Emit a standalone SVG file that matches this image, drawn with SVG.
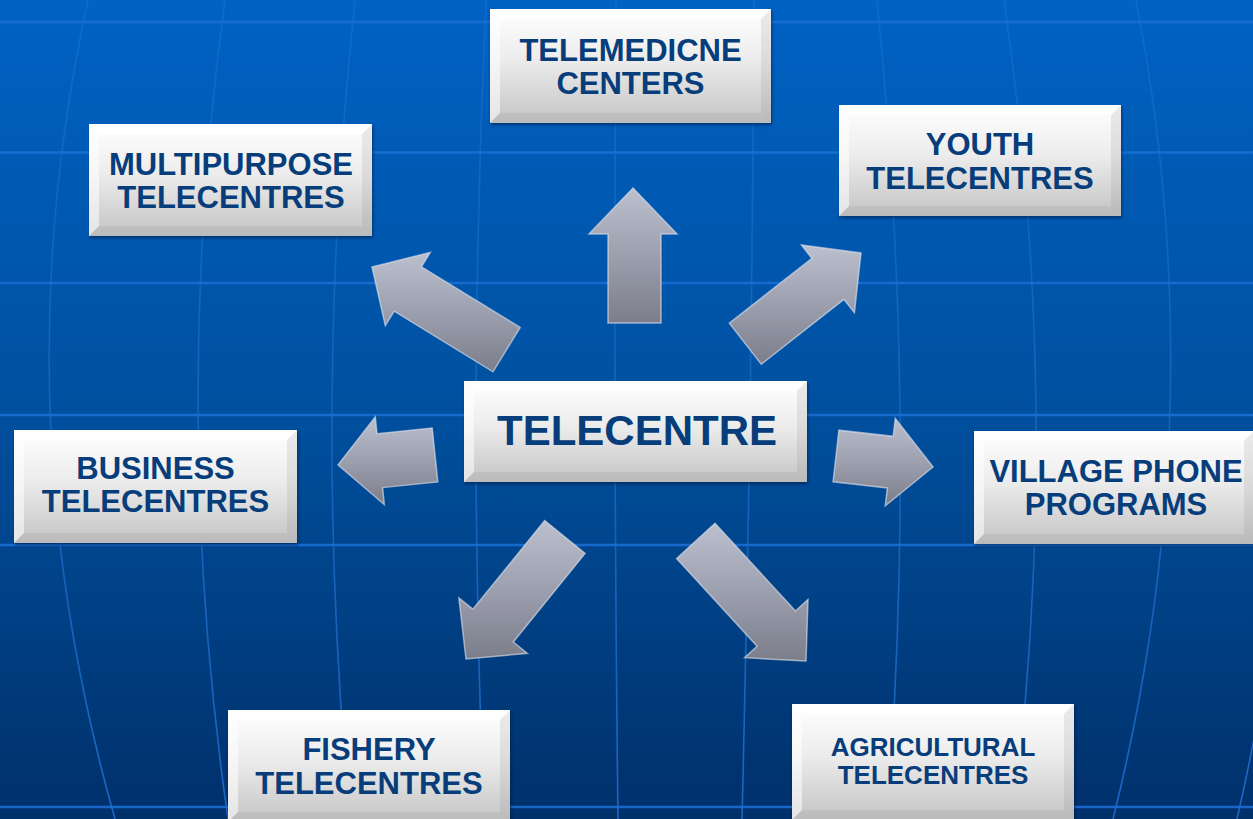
<svg xmlns="http://www.w3.org/2000/svg" width="1253" height="819" viewBox="0 0 1253 819">
  <defs>
    <linearGradient id="bg" x1="0" y1="0" x2="0" y2="1">
      <stop offset="0" stop-color="#0062c4"/>
      <stop offset="0.5" stop-color="#00509f"/>
      <stop offset="1" stop-color="#00306a"/>
    </linearGradient>
    <linearGradient id="meridian" gradientUnits="userSpaceOnUse" x1="0" y1="0" x2="0" y2="819">
      <stop offset="0" stop-color="#2c7ad6" stop-opacity="0.35"/>
      <stop offset="0.5" stop-color="#2474d2" stop-opacity="0.55"/>
      <stop offset="1" stop-color="#1f6cd0" stop-opacity="0.9"/>
    </linearGradient>
    <linearGradient id="face" x1="0" y1="0" x2="0" y2="1">
      <stop offset="0" stop-color="#ffffff"/>
      <stop offset="0.45" stop-color="#ececec"/>
      <stop offset="1" stop-color="#c4c4c4"/>
    </linearGradient>
    <linearGradient id="steel" x1="0" y1="0" x2="0" y2="1">
      <stop offset="0" stop-color="#bbbfce"/>
      <stop offset="0.5" stop-color="#9c9fae"/>
      <stop offset="1" stop-color="#7b7d8a"/>
    </linearGradient>
    <filter id="soft" x="-5%" y="-5%" width="110%" height="110%">
      <feGaussianBlur stdDeviation="1.5"/>
    </filter>
  </defs>
  <style>
    .grid-h { stroke: #1a6ed4; stroke-width: 2.5; fill: none; opacity: 0.9; }
    .grid-v { stroke: url(#meridian); stroke-width: 1.6; fill: none; }
    .shadow { fill: #001838; opacity: 0.55; filter: url(#soft); }
    .face { fill: url(#face); }
    .bv-top { fill: #ffffff; opacity: 0.85; }
    .bv-left { fill: #ffffff; opacity: 0.55; }
    .bv-right { fill: #7a7a7a; opacity: 0.14; }
    .bv-bottom { fill: #7a7a7a; opacity: 0.12; }
    .label { font-family: "Liberation Sans", Arial, sans-serif; font-weight: bold; fill: #063d7a; text-anchor: middle; font-size: 31px; }
    .label-sm { font-size: 26px; }
    .label-lg { font-size: 42px; }
    .arrow { fill: url(#steel); stroke: #e4e6ee; stroke-width: 1.5; stroke-opacity: 0.6; stroke-linejoin: miter; }
  </style>

  <!-- backdrop: blue globe grid -->
  <rect width="1253" height="819" fill="url(#bg)"/>
  <g id="grid">
    <path class="grid-v" d="M88,0 Q-1.5,410 115,819"/>
    <path class="grid-v" d="M225,0 Q169.5,410 228,819"/>
    <path class="grid-v" d="M355,0 Q311.5,410 350,819"/>
    <path class="grid-v" d="M486,0 Q467,410 484,819"/>
    <path class="grid-v" d="M616,0 Q613,410 618,819"/>
    <path class="grid-v" d="M754,0 Q752,410 742,819"/>
    <path class="grid-v" d="M877,0 Q918,410 887,819"/>
    <path class="grid-v" d="M1004,0 Q1063.5,410 1013,819"/>
    <path class="grid-v" d="M1136,0 Q1215.5,410 1113,819"/>
    <path class="grid-v" d="M1260,0 Q1331.5,410 1237,819"/>
    <line class="grid-h" x1="0" y1="22" x2="1253" y2="22" opacity="0.6"/>
    <line class="grid-h" x1="0" y1="152.5" x2="1253" y2="152.5"/>
    <line class="grid-h" x1="0" y1="283" x2="1253" y2="283"/>
    <line class="grid-h" x1="0" y1="415" x2="1253" y2="415"/>
    <line class="grid-h" x1="0" y1="545" x2="1253" y2="545"/>
    <line class="grid-h" x1="0" y1="807" x2="1253" y2="807" opacity="0.5"/>
  </g>

  <!-- block arrows radiating from the hub -->
  <g id="connectors">
    <polygon class="arrow" points="633,188 677,234 661,234 661,323 608,323 608,234 589,234"/>
    <polygon class="arrow" points="372,267 430.3,252.4 421.4,266.8 520.2,327.4 493,371.8 394.2,311.2 385.3,325.6"/>
    <polygon class="arrow" points="861,253 854.4,312.7 843.9,299.4 761.3,364.2 729.3,323.2 811.9,258.4 801.4,245.1"/>
    <polygon class="arrow" points="338,465 375.3,416.9 377,433.8 432.2,428.1 437.8,481.9 382.6,487.6 384.3,504.5"/>
    <polygon class="arrow" points="933,467 885.3,505.8 887.4,487.9 833.1,481.8 838.9,430.2 893.2,436.3 895.3,418.4"/>
    <polygon class="arrow" points="466,659 458.9,597.9 472.9,609.2 544.7,520.6 585.1,553.4 513.3,642 527.3,653.3"/>
    <polygon class="arrow" points="806,661 744.6,657.7 757.1,646.2 676.6,558.5 715,523.3 795.5,611 808,599.5"/>
  </g>

  <!-- bevelled label tiles -->
  <g id="node-telemedicine" transform="translate(490,9)">
    <rect class="shadow" x="1" y="2" width="281" height="114"/>
    <rect class="face" width="281" height="114"/>
    <polygon class="bv-top" points="0,0 281,0 271,10 10,10"/>
    <polygon class="bv-left" points="0,0 10,10 10,104 0,114"/>
    <polygon class="bv-right" points="281,0 281,114 271,104 271,10"/>
    <polygon class="bv-bottom" points="0,114 281,114 271,104 10,104"/>
    <text class="label" x="140.5" y="52">TELEMEDICNE</text>
    <text class="label" x="140.5" y="85">CENTERS</text>
  </g>

  <g id="node-multipurpose" transform="translate(89,124)">
    <rect class="shadow" x="1" y="2" width="283" height="112"/>
    <rect class="face" width="283" height="112"/>
    <polygon class="bv-top" points="0,0 283,0 273,10 10,10"/>
    <polygon class="bv-left" points="0,0 10,10 10,102 0,112"/>
    <polygon class="bv-right" points="283,0 283,112 273,102 273,10"/>
    <polygon class="bv-bottom" points="0,112 283,112 273,102 10,102"/>
    <text class="label" x="142" y="51">MULTIPURPOSE</text>
    <text class="label" x="142" y="84">TELECENTRES</text>
  </g>

  <g id="node-youth" transform="translate(839,105)">
    <rect class="shadow" x="1" y="2" width="282" height="111"/>
    <rect class="face" width="282" height="111"/>
    <polygon class="bv-top" points="0,0 282,0 272,10 10,10"/>
    <polygon class="bv-left" points="0,0 10,10 10,101 0,111"/>
    <polygon class="bv-right" points="282,0 282,111 272,101 272,10"/>
    <polygon class="bv-bottom" points="0,111 282,111 272,101 10,101"/>
    <text class="label" x="141" y="50">YOUTH</text>
    <text class="label" x="141" y="84">TELECENTRES</text>
  </g>

  <g id="node-telecentre" transform="translate(464,381)">
    <rect class="shadow" x="1" y="2" width="343" height="101"/>
    <rect class="face" width="343" height="101"/>
    <polygon class="bv-top" points="0,0 343,0 333,10 10,10"/>
    <polygon class="bv-left" points="0,0 10,10 10,91 0,101"/>
    <polygon class="bv-right" points="343,0 343,101 333,91 333,10"/>
    <polygon class="bv-bottom" points="0,101 343,101 333,91 10,91"/>
    <text class="label label-lg" x="173" y="64">TELECENTRE</text>
  </g>

  <g id="node-business" transform="translate(14,430)">
    <rect class="shadow" x="1" y="2" width="283" height="113"/>
    <rect class="face" width="283" height="113"/>
    <polygon class="bv-top" points="0,0 283,0 273,10 10,10"/>
    <polygon class="bv-left" points="0,0 10,10 10,103 0,113"/>
    <polygon class="bv-right" points="283,0 283,113 273,103 273,10"/>
    <polygon class="bv-bottom" points="0,113 283,113 273,103 10,103"/>
    <text class="label" x="141.5" y="49">BUSINESS</text>
    <text class="label" x="141.5" y="82">TELECENTRES</text>
  </g>

  <g id="node-village-phone" transform="translate(974,431)">
    <rect class="shadow" x="1" y="2" width="280" height="113"/>
    <rect class="face" width="280" height="113"/>
    <polygon class="bv-top" points="0,0 280,0 270,10 10,10"/>
    <polygon class="bv-left" points="0,0 10,10 10,103 0,113"/>
    <polygon class="bv-right" points="280,0 280,113 270,103 270,10"/>
    <polygon class="bv-bottom" points="0,113 280,113 270,103 10,103"/>
    <text class="label" x="142" y="51">VILLAGE PHONE</text>
    <text class="label" x="142" y="84">PROGRAMS</text>
  </g>

  <g id="node-fishery" transform="translate(228,710)">
    <rect class="shadow" x="1" y="2" width="282" height="112"/>
    <rect class="face" width="282" height="112"/>
    <polygon class="bv-top" points="0,0 282,0 272,10 10,10"/>
    <polygon class="bv-left" points="0,0 10,10 10,102 0,112"/>
    <polygon class="bv-right" points="282,0 282,112 272,102 272,10"/>
    <polygon class="bv-bottom" points="0,112 282,112 272,102 10,102"/>
    <text class="label" x="141" y="50">FISHERY</text>
    <text class="label" x="141" y="84">TELECENTRES</text>
  </g>

  <g id="node-agricultural" transform="translate(792,704)">
    <rect class="shadow" x="1" y="2" width="282" height="116"/>
    <rect class="face" width="282" height="116"/>
    <polygon class="bv-top" points="0,0 282,0 272,10 10,10"/>
    <polygon class="bv-left" points="0,0 10,10 10,106 0,116"/>
    <polygon class="bv-right" points="282,0 282,116 272,106 272,10"/>
    <polygon class="bv-bottom" points="0,116 282,116 272,106 10,106"/>
    <text class="label label-sm" x="141" y="52">AGRICULTURAL</text>
    <text class="label label-sm" x="141" y="80">TELECENTRES</text>
  </g>
</svg>
